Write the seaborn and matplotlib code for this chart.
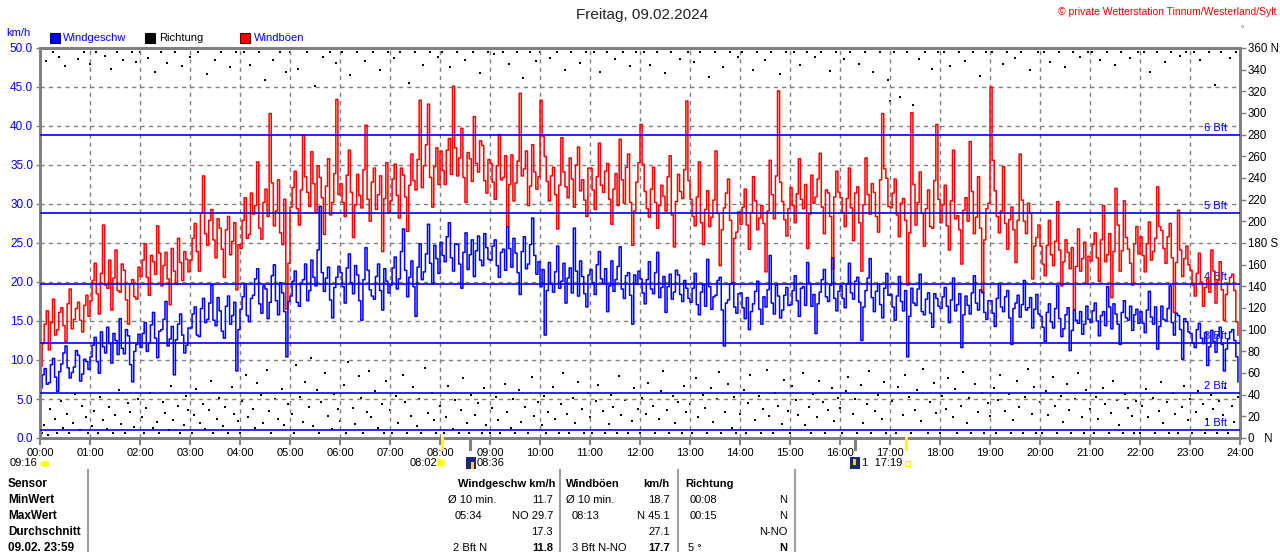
import numpy as np
import matplotlib
matplotlib.use("Agg")
import matplotlib.pyplot as plt
from matplotlib.patches import Rectangle, Ellipse
from matplotlib.lines import Line2D
import seaborn as sns

# ---------------- data (2.5-min wind speed / gusts in km/h, one row per hour) -------------
wind_kmh = [
    6.4, 8.1, 8.9, 6.9, 7.1, 9.4, 10.2, 7.8, 6.0, 8.5, 9.5, 10.9, 11.8, 9.0, 7.7, 8.4, 9.1, 11.2, 10.6, 7.3, 8.2, 10.1, 9.8, 8.8,
    10.4, 11.9, 12.9, 9.8, 8.3, 13.6, 11.7, 10.9, 14.2, 12.1, 9.6, 13.4, 12.5, 10.7, 15.3, 11.5, 10.8, 13.9, 13.1, 9.4, 7.2, 11.1, 12.0, 13.3,
    11.6, 13.4, 14.8, 11.1, 12.2, 14.5, 16.1, 12.8, 10.3, 13.7, 13.9, 15.2, 17.5, 11.8, 12.7, 14.3, 8.1, 12.6, 14.6, 15.9, 13.2, 10.9, 11.9, 14.1,
    14.1, 15.9, 16.8, 13.2, 13.0, 16.6, 17.9, 14.8, 15.2, 17.3, 19.6, 15.1, 14.4, 18.0, 16.3, 13.7, 12.8, 16.9, 18.2, 14.6, 15.7, 17.4, 8.6, 13.9,
    16.5, 18.1, 19.8, 15.7, 14.9, 17.9, 18.3, 20.4, 21.7, 17.2, 16.0, 19.5, 19.1, 15.3, 17.4, 20.8, 22.2, 17.6, 15.8, 19.9, 18.6, 16.2, 10.4, 17.5,
    18.2, 20.1, 21.4, 17.4, 16.9, 19.8, 20.3, 22.3, 17.6, 18.9, 22.8, 20.6, 19.5, 24.1, 29.7, 21.2, 18.8, 20.5, 21.9, 17.7, 15.4, 19.3, 20.6, 22.0,
    21.2, 19.4, 17.3, 21.8, 23.6, 19.9, 18.5, 22.1, 20.9, 17.6, 15.1, 20.3, 24.4, 21.5, 19.0, 18.2, 17.8, 20.7, 22.3, 18.9, 16.4, 21.7, 20.1, 18.6,
    19.6, 21.8, 23.2, 19.1, 20.4, 23.9, 26.8, 21.5, 18.1, 20.6, 22.7, 19.4, 15.6, 21.9, 24.9, 20.3, 21.3, 23.6, 27.4, 22.4, 19.8, 24.7, 23.0, 21.1,
    25.1, 23.4, 22.6, 25.8, 27.6, 23.1, 21.4, 24.9, 24.8, 22.3, 19.2, 23.8, 26.3, 21.6, 23.5, 25.4, 20.7, 24.0, 25.9, 22.8, 22.1, 26.2, 24.4, 22.9,
    22.8, 24.6, 25.4, 22.1, 20.6, 23.8, 24.2, 21.5, 27.1, 24.3, 21.9, 25.6, 23.7, 21.2, 18.4, 23.9, 25.8, 21.7, 22.3, 24.8, 28.2, 23.4, 21.0, 22.6,
    19.4, 21.6, 13.2, 18.9, 22.5, 19.7, 18.7, 21.3, 24.6, 19.2, 20.1, 22.4, 17.3, 20.5, 21.8, 18.6, 26.9, 21.4, 18.2, 22.7, 20.7, 18.5, 16.8, 20.9,
    21.6, 19.9, 18.4, 22.2, 23.9, 20.4, 19.8, 21.7, 16.2, 19.5, 22.7, 18.8, 20.3, 22.0, 24.5, 19.1, 17.9, 20.8, 21.2, 18.3, 14.6, 20.9, 19.7, 21.4,
    20.4, 18.6, 17.2, 20.3, 22.6, 19.1, 18.5, 21.2, 23.8, 18.0, 19.3, 20.7, 16.1, 19.4, 21.0, 17.8, 18.7, 21.5, 20.9, 18.4, 17.5, 20.2, 19.2, 17.9,
    17.4, 19.2, 21.1, 17.1, 15.8, 18.7, 19.6, 16.9, 22.9, 19.4, 16.5, 18.1, 18.3, 20.2, 20.6, 16.4, 11.8, 17.3, 17.7, 19.8, 19.9, 16.8, 16.0, 18.5,
    18.6, 16.7, 15.3, 18.0, 13.9, 16.2, 17.2, 18.8, 20.1, 16.5, 14.6, 18.1, 16.8, 19.0, 23.4, 17.3, 15.9, 19.6, 18.2, 15.4, 16.4, 18.3, 19.3, 17.0,
    17.1, 18.9, 20.8, 17.6, 15.6, 19.2, 19.4, 17.0, 22.5, 19.8, 16.9, 18.4, 13.4, 17.2, 18.7, 20.3, 21.6, 18.1, 17.5, 19.6, 23.1, 17.9, 16.3, 18.8,
    19.5, 17.9, 16.7, 19.8, 22.4, 18.6, 17.8, 20.1, 20.6, 17.4, 12.5, 16.8, 18.9, 20.5, 23.0, 18.0, 16.2, 18.8, 19.7, 17.1, 15.4, 19.2, 21.1, 18.3,
    18.4, 16.8, 15.1, 18.2, 20.7, 17.5, 16.3, 18.9, 10.4, 15.6, 19.2, 17.3, 17.0, 19.1, 21.0, 16.2, 15.8, 17.8, 18.6, 16.0, 14.2, 18.5, 17.9, 16.9,
    16.6, 18.1, 19.3, 16.9, 14.8, 17.7, 20.5, 16.3, 17.1, 18.5, 11.6, 15.8, 18.2, 17.0, 15.9, 18.6, 20.8, 17.3, 16.4, 19.0, 18.7, 16.1, 15.2, 17.6,
    17.6, 16.0, 14.3, 17.9, 19.8, 16.8, 16.2, 18.1, 18.9, 15.4, 12.0, 16.6, 17.3, 18.3, 15.5, 17.1, 20.2, 16.4, 16.7, 18.0, 14.1, 16.5, 18.4, 15.9,
    15.6, 14.2, 12.4, 16.1, 17.2, 14.9, 14.1, 16.6, 19.5, 15.3, 13.0, 14.0, 15.8, 16.7, 11.2, 13.8, 16.4, 15.1, 14.7, 16.2, 13.3, 14.6, 16.9, 15.2,
    14.8, 16.3, 17.3, 15.0, 13.1, 15.7, 16.2, 14.4, 19.4, 16.8, 14.0, 17.2, 15.9, 14.6, 12.0, 16.1, 17.6, 15.4, 15.1, 16.9, 13.8, 15.8, 16.5, 14.7,
    16.2, 14.7, 13.5, 16.4, 18.8, 15.5, 14.6, 16.8, 11.4, 14.3, 16.9, 15.2, 15.0, 16.6, 19.5, 14.8, 13.2, 16.0, 15.7, 13.9, 10.1, 15.3, 14.9, 13.6,
    13.4, 12.2, 11.6, 13.9, 14.7, 12.8, 12.1, 13.5, 9.3, 11.7, 13.8, 12.4, 11.0, 13.1, 14.2, 12.0, 8.6, 11.4, 12.7, 13.6, 13.9, 12.5, 10.4, 7.2,
]

gust_kmh = [
    9.2, 12.1, 14.6, 16.3, 11.3, 14.8, 17.8, 13.2, 13.9, 16.1, 16.7, 14.4, 12.4, 17.2, 19.1, 14.0, 15.2, 16.6, 17.4, 15.1, 13.6, 17.0, 18.3, 15.6,
    17.6, 20.2, 22.4, 18.5, 15.9, 21.1, 27.3, 19.6, 19.2, 22.8, 16.4, 20.5, 24.1, 18.9, 18.7, 22.3, 21.5, 17.7, 14.6, 19.8, 20.3, 18.1, 17.8, 21.9,
    20.7, 22.8, 24.9, 20.6, 18.3, 23.4, 22.6, 21.0, 27.2, 23.7, 19.5, 22.1, 23.8, 20.4, 17.1, 24.3, 21.4, 19.7, 25.6, 22.5, 20.2, 23.9, 22.9, 21.3,
    22.8, 25.6, 27.5, 23.9, 21.4, 28.8, 33.6, 26.2, 24.7, 27.9, 29.3, 25.4, 23.1, 28.1, 26.9, 24.2, 20.6, 26.7, 28.4, 23.5, 25.2, 27.6, 19.0, 24.8,
    24.3, 27.9, 30.8, 25.6, 26.1, 31.4, 28.7, 29.8, 35.4, 26.9, 25.5, 30.2, 31.9, 28.4, 41.6, 32.7, 27.2, 29.1, 33.1, 26.3, 24.8, 30.6, 16.5, 22.4,
    29.6, 32.1, 34.2, 29.4, 27.3, 31.8, 38.8, 33.5, 31.5, 29.7, 36.7, 32.6, 28.9, 34.9, 33.4, 30.8, 26.1, 32.3, 35.8, 28.6, 30.2, 33.9, 43.4, 31.2,
    32.6, 30.2, 28.4, 33.7, 36.9, 31.5, 25.7, 29.9, 33.8, 31.1, 29.5, 34.4, 40.1, 30.6, 27.8, 32.8, 34.6, 29.3, 31.2, 33.6, 23.9, 30.7, 35.3, 28.9,
    30.4, 33.2, 35.1, 31.1, 28.2, 34.6, 33.7, 30.9, 26.5, 32.4, 36.4, 33.0, 31.8, 35.7, 43.3, 32.1, 34.9, 37.6, 42.8, 33.4, 29.6, 34.8, 37.2, 32.5,
    36.8, 34.3, 32.5, 36.9, 38.4, 33.8, 45.1, 37.2, 33.6, 35.9, 39.7, 33.4, 30.2, 36.6, 35.8, 32.9, 41.2, 35.2, 34.1, 38.1, 37.5, 33.0, 31.4, 35.7,
    35.2, 32.8, 30.6, 34.9, 38.9, 33.1, 33.4, 36.2, 27.1, 32.5, 36.3, 30.4, 32.7, 35.5, 44.2, 33.6, 34.5, 36.8, 29.8, 32.3, 37.6, 34.1, 31.9, 33.5,
    43.3, 38.7, 36.1, 32.9, 30.4, 33.6, 34.7, 31.2, 26.8, 32.4, 38.5, 34.1, 32.2, 30.8, 35.9, 33.2, 29.6, 35.0, 37.3, 31.7, 33.1, 30.5, 28.4, 34.6,
    34.6, 31.8, 29.3, 33.5, 37.8, 32.4, 31.5, 34.2, 35.2, 30.6, 27.4, 31.9, 33.9, 29.8, 38.3, 33.1, 30.1, 34.7, 36.4, 30.2, 24.7, 29.1, 32.8, 35.3,
    40.2, 35.1, 31.6, 29.4, 28.3, 31.9, 34.7, 30.2, 26.9, 29.8, 32.4, 31.0, 29.1, 33.5, 36.2, 28.6, 24.5, 30.3, 33.8, 31.6, 30.7, 34.4, 43.2, 33.0,
    30.6, 28.4, 27.2, 30.9, 35.4, 27.6, 24.8, 29.3, 31.7, 27.1, 28.3, 30.5, 36.8, 28.8, 22.1, 26.7, 29.5, 31.4, 33.2, 27.9, 19.8, 25.6, 26.4, 29.0,
    27.4, 29.6, 31.9, 27.3, 24.2, 28.9, 33.5, 30.4, 26.7, 28.2, 29.8, 27.5, 21.3, 29.1, 35.6, 31.2, 28.1, 33.6, 44.5, 32.8, 30.3, 28.0, 25.9, 29.4,
    32.1, 29.8, 27.6, 31.3, 35.8, 30.6, 29.4, 32.5, 24.3, 28.7, 33.7, 30.1, 30.9, 33.2, 36.5, 29.6, 26.2, 31.8, 31.4, 28.4, 21.7, 30.9, 34.2, 31.5,
    30.8, 28.9, 27.1, 30.7, 34.6, 29.5, 25.3, 31.4, 32.2, 27.6, 21.4, 29.9, 35.9, 31.2, 28.7, 32.6, 31.5, 28.4, 26.4, 33.1, 41.6, 34.5, 33.3, 29.7,
    29.5, 31.4, 33.2, 28.6, 25.8, 30.1, 30.7, 27.9, 19.6, 26.3, 41.7, 32.5, 27.3, 30.2, 34.1, 28.8, 24.6, 29.4, 31.8, 27.1, 26.9, 33.0, 40.2, 30.6,
    27.6, 29.9, 32.4, 27.2, 24.1, 30.4, 36.9, 28.1, 28.5, 26.7, 22.3, 29.2, 30.8, 27.8, 38.0, 31.6, 26.2, 28.3, 33.5, 26.9, 18.6, 25.4, 29.4, 30.1,
    45.0, 35.6, 31.7, 28.4, 26.3, 29.1, 34.8, 27.5, 24.2, 28.0, 29.6, 26.7, 22.5, 27.9, 36.4, 30.5, 27.8, 26.2, 30.1, 28.8, 20.4, 24.6, 25.7, 27.3,
    24.6, 22.3, 20.8, 24.7, 27.9, 23.5, 22.1, 25.2, 30.3, 24.1, 19.5, 22.6, 25.4, 23.8, 21.7, 24.4, 16.5, 22.0, 26.8, 21.4, 23.0, 25.1, 19.8, 23.3,
    22.7, 24.8, 26.3, 23.1, 20.1, 25.4, 29.8, 22.6, 23.5, 26.2, 18.0, 23.9, 32.0, 27.3, 21.4, 24.0, 30.4, 25.7, 24.2, 22.4, 19.6, 24.9, 27.1, 23.6,
    25.8, 23.4, 21.3, 24.9, 27.7, 22.8, 23.9, 25.6, 32.2, 27.1, 26.6, 24.3, 22.4, 25.8, 27.5, 23.1, 16.1, 22.5, 29.2, 24.1, 20.7, 23.0, 24.6, 22.2,
    21.5, 19.6, 18.2, 21.1, 23.7, 20.0, 16.9, 19.3, 20.4, 18.7, 24.1, 21.4, 17.3, 20.2, 22.6, 19.0, 15.1, 18.4, 19.8, 20.6, 21.0, 18.9, 14.9, 13.2,
]

# wind direction in degrees, 2.5-min samples, one row per hour
direction_deg = [
    356, 5, 12, 348, 3, 27, 356, 18, 5, 352, 34, 9, 343, 22, 5, 359, 14, 41, 350, 7, 30, 356, 19, 5,
    345, 11, 25, 356, 5, 38, 17, 353, 8, 29, 341, 5, 21, 356, 44, 13, 349, 5, 32, 24, 356, 10, 347, 36,
    356, 19, 5, 28, 351, 42, 9, 338, 15, 5, 356, 33, 23, 346, 7, 48, 17, 356, 30, 5, 343, 12, 39, 26,
    352, 5, 21, 45, 356, 14, 31, 8, 336, 26, 53, 5, 349, 18, 37, 356, 11, 29, 5, 342, 47, 22, 356, 16,
    5, 34, 356, 58, 19, 344, 27, 9, 51, 356, 40, 14, 330, 63, 25, 5, 349, 36, 18, 356, 45, 12, 338, 31,
    356, 22, 5, 67, 341, 38, 15, 52, 356, 29, 74, 11, 325, 44, 5, 33, 352, 60, 20, 356, 8, 41, 346, 27,
    16, 356, 49, 5, 70, 335, 28, 13, 356, 57, 37, 5, 348, 24, 62, 19, 356, 43, 9, 340, 31, 5, 53, 356,
    26, 5, 351, 39, 14, 356, 58, 33, 5, 328, 20, 47, 356, 11, 36, 5, 344, 65, 23, 356, 42, 17, 5, 352,
    30, 356, 5, 19, 48, 342, 8, 35, 356, 5, 26, 55, 349, 14, 5, 40, 356, 21, 32, 337, 5, 46, 12, 356,
    5, 28, 354, 38, 17, 5, 356, 50, 24, 345, 9, 36, 5, 356, 44, 15, 332, 29, 5, 356, 56, 20, 348, 33,
    356, 12, 39, 5, 24, 351, 47, 18, 356, 5, 31, 60, 340, 22, 5, 356, 37, 14, 52, 346, 27, 5, 356, 42,
    19, 5, 356, 34, 49, 338, 25, 5, 356, 13, 40, 29, 350, 5, 57, 21, 356, 35, 5, 343, 16, 46, 356, 27,
    5, 37, 356, 22, 51, 344, 30, 5, 356, 18, 43, 62, 337, 26, 5, 356, 39, 14, 33, 350, 5, 48, 24, 356,
    31, 5, 347, 55, 19, 356, 40, 28, 5, 333, 46, 15, 356, 36, 61, 5, 342, 24, 50, 356, 9, 38, 5, 352,
    22, 356, 44, 5, 32, 58, 340, 17, 356, 39, 5, 27, 349, 63, 20, 356, 5, 42, 30, 336, 13, 54, 356, 25,
    5, 48, 356, 35, 21, 344, 60, 12, 356, 29, 5, 41, 352, 19, 53, 356, 33, 5, 26, 339, 46, 16, 356, 37,
    28, 5, 350, 43, 56, 356, 22, 36, 5, 345, 49, 14, 356, 31, 62, 5, 338, 25, 40, 356, 18, 52, 5, 330,
    311, 34, 356, 5, 47, 315, 21, 58, 356, 38, 5, 307, 26, 44, 350, 16, 64, 356, 5, 33, 341, 51, 23, 356,
    5, 39, 356, 27, 55, 343, 19, 45, 5, 356, 30, 61, 348, 14, 37, 5, 356, 50, 24, 334, 42, 5, 356, 32,
    20, 356, 46, 5, 35, 58, 345, 25, 356, 41, 5, 17, 351, 53, 29, 356, 5, 38, 64, 340, 22, 47, 5, 356,
    33, 5, 356, 43, 21, 347, 56, 30, 5, 356, 39, 15, 342, 50, 26, 5, 356, 36, 60, 352, 19, 5, 44, 356,
    27, 356, 5, 38, 18, 349, 46, 31, 356, 5, 23, 53, 344, 35, 12, 356, 5, 41, 28, 351, 20, 5, 34, 356,
    5, 30, 356, 45, 19, 338, 37, 5, 356, 25, 52, 14, 347, 33, 5, 356, 42, 22, 5, 353, 29, 48, 356, 17,
    36, 5, 356, 24, 43, 349, 31, 5, 18, 356, 40, 27, 326, 5, 34, 356, 21, 46, 5, 351, 30, 15, 356, 38,
]

hour_labels = ["00:00", "01:00", "02:00", "03:00", "04:00", "05:00", "06:00", "07:00",
               "08:00", "09:00", "10:00", "11:00", "12:00", "13:00", "14:00", "15:00",
               "16:00", "17:00", "18:00", "19:00", "20:00", "21:00", "22:00", "23:00", "24:00"]
kmh_ticks = [0, 5, 10, 15, 20, 25, 30, 35, 40, 45, 50]
deg_ticks = [0, 20, 40, 60, 80, 100, 120, 140, 160, 180, 200, 220, 240, 260, 280, 300, 320, 340, 360]
deg_labels = ["0   N", "20", "40", "60", "80", "100", "120", "140", "160", "180 S",
              "200", "220", "240", "260", "280", "300", "320", "340", "360 N"]
bft_kmh = [1.08, 5.76, 12.24, 19.8, 28.8, 38.88]
bft_labels = ["1 Bft", "2 Bft", "3 Bft", "4 Bft", "5 Bft", "6 Bft"]

# sun / moon events (hours)
sun_events = [8 + 2 / 60, 17 + 19 / 60]
moon_events = [8 + 36 / 60, 16 + 18 / 60]

# ---------------- figure ----------------
plt.rcParams["font.family"] = ["Liberation Sans", "DejaVu Sans"]
BLUE = "#0000ff"
RED = "#ff0000"
GRAY = "#808080"
W, H = 1280, 552
fig = plt.figure(figsize=(W / 100, H / 100), dpi=100)
fig.patch.set_facecolor("white")

ax = fig.add_axes([40 / W, 1 - 438 / H, 1200 / W, 390 / H])
ax2 = ax.twinx()
ax.set_zorder(ax2.get_zorder() + 1)
ax.patch.set_visible(False)

wind_t = np.arange(len(wind_kmh)) * 2.5 / 60
gust_t = np.arange(len(gust_kmh)) * 2.5 / 60
dir_t = np.arange(len(direction_deg)) * 2.5 / 60

sns.scatterplot(x=dir_t, y=direction_deg, ax=ax2, marker="s", s=4, color="black",
                linewidth=0, legend=False)
sns.lineplot(x=gust_t, y=gust_kmh, ax=ax, color=RED, linewidth=1.1, estimator=None,
             legend=False, zorder=2, drawstyle="steps-post")
sns.lineplot(x=wind_t, y=wind_kmh, ax=ax, color=BLUE, linewidth=1.1, estimator=None,
             legend=False, zorder=2.1, drawstyle="steps-post")

for v, lab in zip(bft_kmh, bft_labels):
    ax.axhline(v, color=BLUE, linewidth=1.2, zorder=3)
    ax.text(23.74, v + 0.25, lab, color=BLUE, fontsize=8, ha="right", va="bottom", zorder=1)

ax.set_xlim(0, 24)
ax.set_ylim(0, 50)
ax2.set_ylim(0, 360)
ax.set_xticks(range(25))
ax.set_xticklabels(hour_labels, fontsize=8)
ax.set_yticks(kmh_ticks)
ax.set_yticklabels([f"{v:.1f}" for v in kmh_ticks], fontsize=8.5, color=BLUE)
ax2.set_yticks(deg_ticks)
ax2.set_yticklabels(deg_labels, fontsize=8.3)
ax.set_xlabel("")
ax.set_ylabel("")
ax2.set_ylabel("")
ax.grid(True, color=GRAY, linestyle=(0, (3, 3)), linewidth=1)
ax.set_axisbelow(True)
ax.tick_params(axis="x", length=5, width=1.5, color=GRAY, pad=2)
ax.tick_params(axis="y", length=3, width=1, color=GRAY, pad=2)
ax2.tick_params(axis="y", length=4, width=1, color=GRAY, pad=1.5)
for a in (ax, ax2):
    for sp in a.spines.values():
        sp.set_color(GRAY)
        sp.set_linewidth(2)

# sunrise / sunset / moon markers below axis
trans = ax.get_xaxis_transform()
for t in sun_events:
    ax.plot([t, t], [0, -0.028], transform=trans, color="#ffff00", lw=2.2, clip_on=False, zorder=5)
for t in moon_events:
    ax.plot([t, t], [0, -0.028], transform=trans, color=GRAY, lw=2.2, clip_on=False, zorder=5)


def ftext(x, y, s, **kw):
    kw.setdefault("va", "center")
    kw.setdefault("fontsize", 8)
    fig.text(x / W, 1 - y / H, s, **kw)


def frect(x, y, w, h, **kw):
    fig.add_artist(Rectangle((x / W, 1 - (y + h) / H), w / W, h / H,
                             transform=fig.transFigure, **kw))


# title and header texts
ftext(642, 15, "Freitag, 09.02.2024", fontsize=11, ha="center", color="#222222")
ftext(1276, 12, "© private Wetterstation Tinnum/Westerland/Sylt", fontsize=7.5,
      ha="right", color=RED)
ftext(1242, 30, "°", fontsize=6, ha="center", color="#444444")
ftext(6, 33, "km/h", fontsize=8, ha="left", color=BLUE)

# legend
frect(50, 33, 10, 10, facecolor=BLUE, edgecolor="#000060", linewidth=0.8)
ftext(63, 38, "Windgeschw", ha="left", color=BLUE)
frect(145, 33, 10, 10, facecolor="black", edgecolor="black", linewidth=0.8)
ftext(159, 38, "Richtung", ha="left", color="black")
frect(240, 33, 10, 10, facecolor=RED, edgecolor="#600000", linewidth=0.8)
ftext(254, 38, "Windböen", ha="left", color=BLUE)

# sun / moon annotations
ftext(10, 463, "09:16", ha="left")
fig.add_artist(Ellipse((45 / W, 1 - 464 / H), 9 / W, 6 / H, transform=fig.transFigure,
                       facecolor="#ffff00", edgecolor="none"))
ftext(437, 463, "08:02", ha="right")
fig.add_artist(Ellipse((441 / W, 1 - 463 / H), 8 / W, 8 / H, transform=fig.transFigure,
                       facecolor="#ffff00", edgecolor="#ffff80", linewidth=1))
frect(466, 457, 10, 12, facecolor="#1a2a7a", edgecolor="none")
frect(471, 462, 3, 7, facecolor="#ffd700", edgecolor="none")
ftext(477, 463, "08:36", ha="left")
frect(850, 457, 10, 12, facecolor="#1a2a7a", edgecolor="none")
frect(853, 459, 3, 6, facecolor="#ffd700", edgecolor="none")
ftext(862, 463, "1  17:19", ha="left")
frect(905, 461, 5, 5, facecolor="none", edgecolor="#ffff00", linewidth=1)

# statistics table
for x in (88, 560, 678, 795):
    fig.add_artist(Line2D([x / W, x / W], [1 - 470 / H, 0], transform=fig.transFigure,
                          color="#a0a0a0", linewidth=1.5))
row_y = [484, 500, 516, 532, 548]
row_names = ["Sensor", "MinWert", "MaxWert", "Durchschnitt", "09.02. 23:59"]
for y, name in zip(row_y, row_names):
    ftext(8, y, name, ha="left", fontweight="bold", fontsize=8.5)

ftext(555, 484, "Windgeschw km/h", ha="right", fontweight="bold")
ftext(566, 484, "Windböen", ha="left", fontweight="bold")
ftext(670, 484, "km/h", ha="right", fontweight="bold")
ftext(685, 484, "Richtung", ha="left", fontweight="bold")

ftext(448, 500, "Ø 10 min.", ha="left")
ftext(553, 500, "11.7", ha="right")
ftext(566, 500, "Ø 10 min.", ha="left")
ftext(670, 500, "18.7", ha="right")
ftext(690, 500, "00:08", ha="left")
ftext(787, 500, "N", ha="right")

ftext(455, 516, "05:34", ha="left")
ftext(553, 516, "NO 29.7", ha="right")
ftext(572, 516, "08:13", ha="left")
ftext(670, 516, "N 45.1", ha="right")
ftext(690, 516, "00:15", ha="left")
ftext(787, 516, "N", ha="right")

ftext(553, 532, "17.3", ha="right")
ftext(670, 532, "27.1", ha="right")
ftext(787, 532, "N-NO", ha="right")

ftext(453, 548, "2 Bft N", ha="left")
ftext(553, 548, "11.8", ha="right", fontweight="bold")
ftext(572, 548, "3 Bft N-NO", ha="left")
ftext(670, 548, "17.7", ha="right", fontweight="bold")
ftext(688, 548, "5 °", ha="left")
ftext(787, 548, "N", ha="right", fontweight="bold")

fig.savefig("out.png", dpi=100, facecolor="white")
